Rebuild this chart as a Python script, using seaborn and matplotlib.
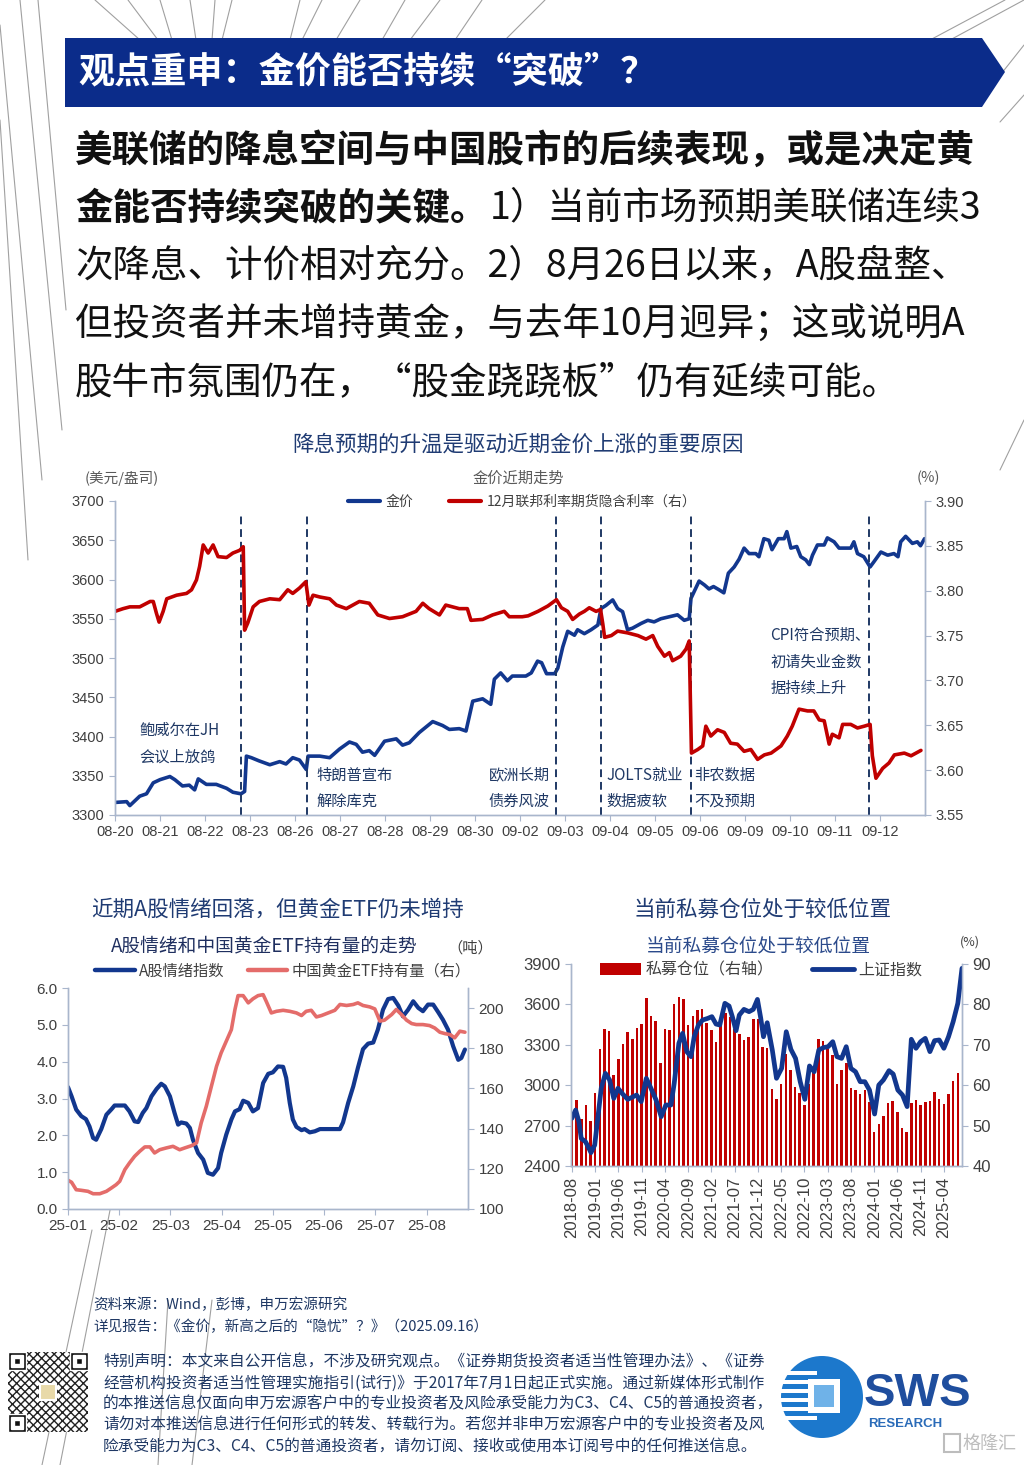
import numpy as np
import matplotlib
matplotlib.use('Agg')
import matplotlib.pyplot as plt
import seaborn as sns
from matplotlib.lines import Line2D
from matplotlib.patches import Polygon, Rectangle, Circle, Patch
from matplotlib.ticker import FormatStrFormatter

sns.set_theme(style="ticks")
plt.rcParams['font.family'] = ['Noto Sans CJK SC', 'DejaVu Sans']
plt.rcParams['axes.unicode_minus'] = False

# -------------------------
# Data: chart 1 (gold vs Dec fed funds implied rate), x = trading-day index
# -------------------------
day_labels = ['08-20', '08-21', '08-22', '08-23', '08-26', '08-27', '08-28', '08-29', '08-30',
              '09-02', '09-03', '09-04', '09-05', '09-06', '09-09', '09-10', '09-11', '09-12']

gold_t = [0.00, 0.26, 0.33, 0.55, 0.70, 0.85, 1.00, 1.22, 1.33, 1.50, 1.65, 1.77, 1.85, 2.03, 2.25,
          2.48, 2.62, 2.80, 2.88, 2.92, 3.03, 3.20, 3.44, 3.66, 3.80, 3.95, 4.10, 4.25, 4.29, 4.55,
          4.77, 4.99, 5.21, 5.36, 5.50, 5.65, 5.77, 5.99, 6.25, 6.39, 6.54, 6.76, 7.06, 7.28, 7.43,
          7.65, 7.80, 7.95, 8.17, 8.35, 8.43, 8.57, 8.72, 8.83, 9.13, 9.25, 9.39, 9.48, 9.59, 9.77,
          9.84, 9.95, 10.06, 10.21, 10.28, 10.43, 10.58, 10.73, 10.80, 10.91, 11.06, 11.17, 11.28,
          11.39, 11.50, 11.69, 11.84, 11.98, 12.13, 12.35, 12.50, 12.65, 12.76, 12.80, 12.98, 13.10,
          13.20, 13.30, 13.42, 13.53, 13.63, 13.76, 13.87, 13.98, 14.09, 14.24, 14.31, 14.42, 14.53,
          14.60, 14.74, 14.87, 14.93, 15.02, 15.15, 15.24, 15.35, 15.43, 15.50, 15.61, 15.76, 15.83,
          15.98, 16.09, 16.20, 16.35, 16.42, 16.50, 16.64, 16.78, 16.87, 17.02, 17.17, 17.31, 17.40,
          17.46, 17.57, 17.72, 17.83, 17.90, 17.99]
gold_v = [3316, 3317, 3312, 3324, 3327, 3341, 3345, 3349, 3345, 3337, 3338, 3332, 3346, 3339, 3339,
          3334, 3329, 3327, 3330, 3375, 3373, 3369, 3364, 3368, 3365, 3373, 3370, 3358, 3375, 3375,
          3373, 3384, 3393, 3390, 3380, 3382, 3376, 3394, 3397, 3389, 3392, 3405, 3419, 3414, 3409,
          3410, 3407, 3445, 3448, 3441, 3473, 3481, 3471, 3477, 3477, 3481, 3496, 3494, 3480, 3480,
          3487, 3514, 3534, 3529, 3536, 3531, 3536, 3542, 3563, 3567, 3574, 3563, 3559,
          3536, 3538, 3544, 3548, 3546, 3550, 3553, 3555, 3548, 3550, 3576, 3598, 3593,
          3588, 3591, 3587, 3583, 3608, 3616, 3626, 3640, 3633, 3633, 3629, 3652, 3650,
          3638, 3652, 3652, 3661, 3640, 3642, 3629, 3625, 3619, 3631, 3644, 3644, 3653,
          3648, 3640, 3640, 3640, 3648, 3633, 3629, 3616, 3623, 3635, 3631, 3633, 3629,
          3648, 3655, 3646, 3648, 3643, 3652]

rate_t = [0.00, 0.18, 0.33, 0.55, 0.78, 0.85, 0.92, 0.98, 1.07, 1.15, 1.37, 1.59, 1.70, 1.81, 1.88,
          1.96, 2.07, 2.18, 2.29, 2.48, 2.62, 2.77, 2.85, 2.88, 2.95, 3.07, 3.21, 3.44, 3.66, 3.84,
          3.95, 4.10, 4.24, 4.31, 4.40, 4.55, 4.77, 4.92, 5.14, 5.43, 5.65, 5.84, 6.10, 6.39, 6.69,
          6.84, 6.98, 7.21, 7.35, 7.65, 7.83, 7.91, 8.17, 8.39, 8.65, 8.76, 9.05, 9.18, 9.40, 9.62,
          9.81, 9.92, 10.06, 10.17, 10.32, 10.43, 10.54, 10.69, 10.79, 10.84, 10.88, 11.03, 11.17,
          11.39, 11.62, 11.80, 11.95, 12.06, 12.21, 12.32, 12.39, 12.57, 12.69, 12.76, 12.81, 12.95,
          13.06, 13.13, 13.24, 13.39, 13.54, 13.68, 13.83, 13.98, 14.13, 14.28, 14.43, 14.58, 14.80,
          14.94, 15.05, 15.20, 15.39, 15.53, 15.65, 15.76, 15.87, 15.94, 16.09, 16.17, 16.35, 16.50,
          16.65, 16.78, 16.83, 16.91, 17.06, 17.20, 17.32, 17.54, 17.69, 17.91]
rate_v = [3.777, 3.780, 3.782, 3.782, 3.788, 3.788, 3.775, 3.765, 3.777, 3.791, 3.795, 3.797, 3.801,
          3.812, 3.827, 3.851, 3.842, 3.851, 3.838, 3.837, 3.842, 3.845, 3.849, 3.756, 3.764, 3.782,
          3.788, 3.791, 3.790, 3.801, 3.797, 3.803, 3.810, 3.784, 3.795, 3.793, 3.791, 3.784, 3.780,
          3.788, 3.786, 3.773, 3.769, 3.771, 3.777, 3.786, 3.780, 3.773, 3.784, 3.780, 3.780, 3.767,
          3.768, 3.773, 3.777, 3.771, 3.771, 3.772, 3.777, 3.783, 3.790, 3.781, 3.777, 3.768, 3.774,
          3.777, 3.781, 3.777, 3.779, 3.763, 3.748, 3.750, 3.755, 3.753, 3.750, 3.746, 3.750, 3.738,
          3.727, 3.731, 3.722, 3.727, 3.735, 3.744, 3.619, 3.623, 3.627, 3.649, 3.638, 3.645, 3.642,
          3.630, 3.629, 3.621, 3.623, 3.612, 3.617, 3.619, 3.627, 3.638, 3.649, 3.668, 3.666, 3.666,
          3.656, 3.655, 3.629, 3.640, 3.636, 3.651, 3.651, 3.647, 3.649, 3.651, 3.616, 3.591, 3.602,
          3.608, 3.617, 3.619, 3.616, 3.622]

event_days = [2.81, 4.27, 9.80, 10.80, 12.79, 16.75]

# -------------------------
# Data: chart 2 (A-share sentiment vs China gold ETF holdings), x = months since 2025-01
# -------------------------
month_labels = ['25-01', '25-02', '25-03', '25-04', '25-05', '25-06', '25-07', '25-08']

senti_t = [0.00, 0.07, 0.16, 0.26, 0.35, 0.42, 0.49, 0.55, 0.65, 0.75, 0.85, 0.91, 1.11, 1.20, 1.30,
           1.37, 1.46, 1.53, 1.63, 1.73, 1.82, 1.89, 1.99, 2.08, 2.15, 2.21, 2.31, 2.38, 2.44, 2.54,
           2.64, 2.73, 2.83, 2.93, 2.99, 3.09, 3.19, 3.26, 3.35, 3.42, 3.52, 3.61, 3.71, 3.81, 3.91,
           4.00, 4.10, 4.20, 4.26, 4.33, 4.39, 4.46, 4.56, 4.62, 4.72, 4.82, 4.92, 5.31, 5.37, 5.47,
           5.57, 5.66, 5.76, 5.86, 5.96, 6.05, 6.15, 6.25, 6.35, 6.45, 6.54, 6.64, 6.74, 6.84, 6.93,
           7.03, 7.13, 7.23, 7.32, 7.42, 7.52, 7.62, 7.68, 7.75]
senti_v = [3.31, 3.06, 2.70, 2.52, 2.44, 2.24, 1.93, 1.88, 2.17, 2.56, 2.71, 2.81, 2.81, 2.65, 2.38,
           2.36, 2.61, 2.74, 3.06, 3.26, 3.40, 3.33, 3.06, 2.61, 2.29, 2.35, 2.32, 2.20, 1.88, 1.52,
           1.34, 0.98, 0.93, 1.11, 1.52, 2.02, 2.43, 2.65, 2.71, 2.94, 2.88, 2.65, 2.74, 3.42, 3.67,
           3.71, 3.87, 3.86, 3.56, 2.88, 2.43, 2.23, 2.14, 2.17, 2.08, 2.11, 2.17, 2.17, 2.35, 2.88,
           3.33, 3.83, 4.34, 4.49, 4.52, 4.87, 5.41, 5.70, 5.73, 5.52, 5.23, 5.41, 5.64, 5.46, 5.37,
           5.55, 5.55, 5.34, 5.14, 4.87, 4.42, 4.05, 4.10, 4.33]

etf_t = [0.00, 0.07, 0.16, 0.26, 0.39, 0.49, 0.62, 0.75, 0.85, 0.94, 1.01, 1.11, 1.20, 1.30, 1.40,
         1.50, 1.60, 1.69, 1.79, 1.92, 2.05, 2.18, 2.28, 2.41, 2.51, 2.60, 2.70, 2.80, 2.90, 2.99,
         3.09, 3.19, 3.26, 3.32, 3.42, 3.52, 3.61, 3.71, 3.81, 3.87, 3.97, 4.07, 4.20, 4.33, 4.46,
         4.56, 4.65, 4.75, 4.85, 4.95, 5.08, 5.21, 5.31, 5.44, 5.57, 5.66, 5.76, 5.89, 5.99, 6.09,
         6.18, 6.32, 6.41, 6.51, 6.61, 6.71, 6.80, 6.93, 7.06, 7.16, 7.26, 7.36, 7.46, 7.55, 7.65,
         7.75]
etf_v = [114.3, 113.3, 109.6, 109.3, 108.8, 107.6, 107.6, 108.8, 110.5, 112.1, 113.8, 119.6, 122.9,
         126.2, 128.7, 130.9, 130.9, 127.9, 129.5, 130.4, 131.2, 129.5, 130.4, 131.5, 132.9, 142.8,
         151.1, 161.1, 171.0, 177.7, 183.5, 189.3, 199.3, 206.2, 206.2, 202.6, 204.6, 206.2, 206.7,
         203.4, 197.6, 198.4, 198.9, 198.4, 197.6, 196.3, 198.4, 198.9, 195.6, 196.3, 197.6, 198.9,
         201.8, 201.3, 201.8, 202.6, 201.3, 200.6, 199.6, 193.5, 194.0, 196.8, 199.3, 196.8, 194.0,
         192.3, 191.8, 191.8, 191.3, 190.1, 188.0, 187.3, 186.8, 185.2, 188.5, 188.0]

# -------------------------
# Data: chart 3 (private fund position vs SSE index), x = months since 2018-08
# -------------------------
ym_labels = ['2018-08', '2019-01', '2019-06', '2019-11', '2020-04', '2020-09', '2021-02', '2021-07',
             '2021-12', '2022-05', '2022-10', '2023-03', '2023-08', '2024-01', '2024-06', '2024-11',
             '2025-04']

position = [52.5, 56.3, 51.6, 55.1, 51.2, 58.0, 68.9, 73.9, 73.3, 62.5, 66.4, 70.1, 73.2, 71.4, 74.1,
            75.1, 81.7, 77.1, 75.9, 65.6, 74.0, 73.7, 80.1, 81.9, 81.3, 74.9, 77.1, 78.6, 78.8, 75.3,
            73.7, 70.6, 75.3, 77.8, 77.0, 73.8, 72.7, 71.2, 72.0, 76.3, 76.3, 69.4, 69.1, 59.0, 56.7,
            60.3, 67.7, 63.8, 59.5, 58.0, 55.1, 60.3, 63.9, 71.4, 71.0, 68.9, 67.5, 60.2, 63.8, 65.4,
            59.2, 58.8, 57.8, 58.8, 55.9, 48.3, 50.3, 52.5, 55.5, 56.1, 53.4, 49.5, 48.5, 55.5, 56.3,
            55.1, 55.9, 56.2, 58.4, 56.6, 55.3, 57.8, 61.1, 62.9]
position_m = list(range(len(position)))

sse_t = [0.0, 0.8, 1.5, 2.0, 2.9, 3.4, 4.1, 4.9, 5.6, 6.3, 7.2, 8.1, 9.0, 9.9, 10.9, 12.0, 12.9, 13.9,
         14.9, 16.0, 17.0, 18.1, 19.2, 20.2, 21.3, 22.0, 23.0, 23.8, 24.7, 25.6, 26.3, 27.2, 28.1,
         29.2, 30.1, 31.0, 31.8, 32.9, 33.8, 34.5, 35.3, 36.0, 37.0, 38.1, 39.0, 39.9, 40.6, 41.2,
         42.0, 43.1, 44.0, 45.1, 46.1, 47.1, 48.1, 49.1, 50.1, 51.1, 52.1, 53.1, 54.1, 55.1, 56.1,
         57.0, 58.0, 59.0, 60.0, 61.0, 62.0, 63.0, 64.0, 65.1, 66.0, 67.0, 68.2, 69.1, 70.1, 71.1,
         72.1, 73.0, 74.0, 75.0, 76.0, 77.0, 78.0, 79.0, 80.0, 81.0, 82.0, 83.0, 83.9]
sse_v = [2754, 2816, 2729, 2605, 2581, 2549, 2499, 2556, 2766, 2977, 3088, 3039, 2902, 2977, 2935, 2895,
         2910, 2927, 2878, 3051, 2977, 2890, 2766, 2853, 2853, 3014, 3311, 3385, 3249, 3212, 3360, 3447,
         3484, 3496, 3509, 3454, 3447, 3608, 3588, 3509, 3405, 3521, 3563, 3546, 3563, 3637, 3500, 3360,
         3464, 3261, 3051, 3125, 3397, 3266, 3199, 3026, 2895, 3143, 3100, 3261, 3279, 3286, 3323,
         3212, 3199, 3286, 3125, 3100, 3026, 3026, 2964, 2786, 3001, 3039, 3108, 3083, 2964, 2927,
         2841, 3341, 3274, 3323, 3348, 3249, 3331, 3336, 3274, 3360, 3472, 3608, 3868]

# colours
NAVY = '#0B2C8A'
BLUE = '#12378E'
RED = '#C00000'
SALMON = '#E46C6A'
SPINE = '#A9B6CC'
TICK = '#3F3F3F'
TITLE = '#1F3B73'
NOTE = '#1F3864'

W, H = 1024, 1465
fig = plt.figure(figsize=(W / 100, H / 100), dpi=100)
fig.patch.set_facecolor('white')

# background layer in pixel coordinates
bg = fig.add_axes([0, 0, 1, 1])
bg.set_xlim(0, W)
bg.set_ylim(H, 0)
bg.axis('off')
bg.set_zorder(-1)


def px_axes(l, t, r, b):
    return fig.add_axes([l / W, 1 - b / H, (r - l) / W, (b - t) / H])


def fig_pt(x, y):
    return (x / W, 1 - y / H)


def style_pair(ax, axr, size):
    for a in (ax, axr):
        for s in a.spines.values():
            s.set_color(SPINE)
            s.set_linewidth(1.0)
        a.spines['top'].set_visible(False)
    ax.tick_params(axis='both', direction='out', length=4, width=0.8, color=SPINE,
                   labelcolor=TICK, labelsize=size, bottom=True, left=True, right=False)
    axr.tick_params(axis='y', direction='out', length=4, width=0.8, color=SPINE,
                    labelcolor=TICK, labelsize=size, right=True, left=False)
    for lab in ax.get_xticklabels() + ax.get_yticklabels() + axr.get_yticklabels():
        lab.set_fontfamily(['Liberation Sans', 'DejaVu Sans'])


# -------------------------
# Decorative thin lines
# -------------------------
deco = [((20, 0), (62, 430)), ((0, 25), (42, 480)), ((38, 0), (66, 310)), ((0, 120), (28, 560)),
        ((95, 0), (140, 40)), ((128, 0), (158, 40)), ((160, 0), (172, 40)), ((190, 0), (196, 40)),
        ((215, 0), (212, 40)), ((232, 0), (222, 40)), ((300, 0), (290, 40)), ((322, 0), (302, 40)),
        ((360, 0), (336, 40)), ((405, 0), (382, 40)), ((440, 0), (410, 40)), ((482, 0), (455, 40)),
        ((545, 0), (505, 40)), ((1024, 0), (950, 40)), ((1005, 0), (930, 40)),
        ((1024, 45), (990, 88)), ((1024, 95), (1000, 122)), ((1024, 420), (1000, 470)),
        ((112, 1200), (60, 1465)), ((92, 1230), (42, 1465)), ((212, 1300), (192, 1465)),
        ((168, 1300), (158, 1465))]
for (x0, y0), (x1, y1) in deco:
    bg.plot([x0, x1], [y0, y1], color='#A0A0A0', lw=0.8, zorder=1)

# -------------------------
# Header banner and lead text
# -------------------------
bg.add_patch(Polygon([(65, 38), (982, 38), (1005, 72), (982, 107), (65, 107)],
                     closed=True, facecolor=NAVY, edgecolor='none', zorder=3))
bg.text(78, 72, '观点重申：金价能否持续“突破”？', color='white', fontsize=26, weight='bold',
        va='center', ha='left', zorder=4)

body_fs = 27
bg.text(75, 150, '美联储的降息空间与中国股市的后续表现，或是决定黄', fontsize=body_fs, weight='bold',
        color='#111111', va='center')
t_b = bg.text(75, 208, '金能否持续突破的关键。', fontsize=body_fs, weight='bold', color='#111111', va='center')
fig.canvas.draw()
bb = t_b.get_window_extent(fig.canvas.get_renderer())
x_end = bg.transData.inverted().transform((bb.x1, bb.y0))[0]
bg.text(x_end + 2, 208, '1）当前市场预期美联储连续3', fontsize=body_fs, color='#111111', va='center')
bg.text(75, 267, '次降息、计价相对充分。2）8月26日以来，A股盘整、', fontsize=body_fs, color='#111111', va='center')
bg.text(75, 325, '但投资者并未增持黄金，与去年10月迥异；这或说明A', fontsize=body_fs, color='#111111', va='center')
bg.text(75, 383, '股牛市氛围仍在，“股金跷跷板”仍有延续可能。', fontsize=body_fs, color='#111111', va='center')

# -------------------------
# Chart 1: gold price vs implied rate
# -------------------------
bg.text(518, 445, '降息预期的升温是驱动近期金价上涨的重要原因', fontsize=15.5, color=TITLE, ha='center', va='center')
bg.text(85, 478, '(美元/盎司)', fontsize=10.5, color='#595959', ha='left', va='center')
bg.text(518, 478, '金价近期走势', fontsize=11, color='#595959', ha='center', va='center')
bg.text(940, 478, '(%)', fontsize=10.5, color='#595959', ha='right', va='center')

ax1 = px_axes(115, 501, 925, 815)
sns.lineplot(x=gold_t, y=gold_v, ax=ax1, color=BLUE, linewidth=2.6)
ax1r = ax1.twinx()
sns.lineplot(x=rate_t, y=rate_v, ax=ax1r, color=RED, linewidth=2.6)
for d in event_days:
    ax1.axvline(d, ymin=0, ymax=0.962, color=NOTE, ls=(0, (4, 2.5)), lw=1.4)
ax1.set_xlim(0, 18)
ax1.set_ylim(3300, 3700)
ax1r.set_ylim(3.55, 3.90)
ax1.set_xticks(range(len(day_labels)))
ax1.set_xticklabels(day_labels)
ax1.set_yticks(range(3300, 3701, 50))
ax1r.set_yticks(np.arange(3.55, 3.901, 0.05))
ax1r.yaxis.set_major_formatter(FormatStrFormatter('%.2f'))
style_pair(ax1, ax1r, 10.5)

notes = [(0.55, 3391, '鲍威尔在JH\n会议上放鸽'), (4.47, 3334, '特朗普宣布\n解除库克'),
         (8.30, 3334, '欧洲长期\n债券风波'), (10.93, 3334, 'JOLTS就业\n数据疲软'),
         (12.88, 3334, '非农数据\n不及预期'), (14.56, 3495, 'CPI符合预期、\n初请失业金数\n据持续上升')]
for x, y, s in notes:
    ax1.text(x, y, s, fontsize=11, color=NOTE, ha='left', va='center', linespacing=1.72)

h1 = [Line2D([0], [0], color=BLUE, lw=3), Line2D([0], [0], color=RED, lw=3)]
ax1r.legend(h1, ['金价', '12月联邦利率期货隐含利率（右）'], loc='center', ncol=2, frameon=False,
            bbox_to_anchor=fig_pt(522, 502), bbox_transform=fig.transFigure, fontsize=10,
            handlelength=2.3, handletextpad=0.4, columnspacing=2.6, labelcolor='#404040')

# -------------------------
# Chart 2: sentiment vs gold ETF
# -------------------------
bg.text(278, 910, '近期A股情绪回落，但黄金ETF仍未增持', fontsize=15.5, color=TITLE, ha='center', va='center')
bg.text(264, 946, 'A股情绪和中国黄金ETF持有量的走势', fontsize=13.5, color='#1F2F5F', ha='center', va='center')
bg.text(470, 948, '（吨）', fontsize=11, color='#404040', ha='center', va='center')

ax2 = px_axes(68, 988, 468, 1209)
sns.lineplot(x=senti_t, y=senti_v, ax=ax2, color=BLUE, linewidth=3.0)
ax2r = ax2.twinx()
sns.lineplot(x=etf_t, y=etf_v, ax=ax2r, color=SALMON, linewidth=2.6)
ax2.set_xlim(0, 7.81)
ax2.set_ylim(0, 6)
ax2r.set_ylim(100, 210)
ax2.set_xticks(range(len(month_labels)))
ax2.set_xticklabels(month_labels)
ax2.set_yticks(np.arange(0, 6.01, 1.0))
ax2.yaxis.set_major_formatter(FormatStrFormatter('%.1f'))
ax2r.set_yticks(range(100, 201, 20))
style_pair(ax2, ax2r, 11)

h2 = [Line2D([0], [0], color=BLUE, lw=3.2), Line2D([0], [0], color=SALMON, lw=3.2)]
ax2r.legend(h2, ['A股情绪指数', '中国黄金ETF持有量（右）'], loc='center', ncol=2, frameon=False,
            bbox_to_anchor=fig_pt(283, 971), bbox_transform=fig.transFigure, fontsize=11,
            handlelength=2.6, handletextpad=0.3, columnspacing=1.5, labelcolor='#404040')

# -------------------------
# Chart 3: private fund position vs SSE index
# -------------------------
bg.text(763, 910, '当前私募仓位处于较低位置', fontsize=15.5, color=TITLE, ha='center', va='center')
bg.text(758, 946, '当前私募仓位处于较低位置', fontsize=13.5, color='#2B4A8B', ha='center', va='center')
bg.text(970, 942, '(%)', fontsize=9, color='#404040', ha='center', va='center')

ax3 = px_axes(571, 964, 962, 1166)
ax3r = ax3.twinx()
ax3r.bar(position_m, position, width=0.55, color=RED, linewidth=0)
sns.lineplot(x=sse_t, y=sse_v, ax=ax3, color=BLUE, linewidth=3.4)
ax3.set_zorder(ax3r.get_zorder() + 1)
ax3.patch.set_visible(False)
ax3.set_ylim(2400, 3900)
ax3r.set_ylim(40, 90)
ax3.set_yticks(range(2400, 3901, 300))
ax3r.set_yticks(range(40, 91, 10))
ax3.set_xticks(range(0, 84, 5))
ax3.set_xticklabels(ym_labels)
ax3.set_xlim(-0.2, 83.9)
style_pair(ax3, ax3r, 12)
ax3.tick_params(axis='x', labelrotation=90)
ax3r.tick_params(axis='x', bottom=False, labelbottom=False)

h3 = [Patch(facecolor=RED, edgecolor='none'), Line2D([0], [0], color=BLUE, lw=3.5)]
ax3.legend(h3, ['私募仓位（右轴）', '上证指数'], loc='center', ncol=2, frameon=False,
           bbox_to_anchor=fig_pt(761, 970), bbox_transform=fig.transFigure, fontsize=11.5,
           handlelength=2.6, handletextpad=0.3, columnspacing=2.4, labelcolor='#404040')

# -------------------------
# Footer
# -------------------------
bg.text(93, 1305, '资料来源：Wind，彭博，申万宏源研究', fontsize=10.5, color=NOTE, va='center')
bg.text(93, 1327, '详见报告：《金价，新高之后的“隐忧”？》（2025.09.16）', fontsize=10.5, color=NOTE, va='center')

disclaimer = ['特别声明：本文来自公开信息，不涉及研究观点。《证券期货投资者适当性管理办法》、《证券',
              '经营机构投资者适当性管理实施指引(试行)》于2017年7月1日起正式实施。通过新媒体形式制作',
              '的本推送信息仅面向申万宏源客户中的专业投资者及风险承受能力为C3、C4、C5的普通投资者，',
              '请勿对本推送信息进行任何形式的转发、转载行为。若您并非申万宏源客户中的专业投资者及风',
              '险承受能力为C3、C4、C5的普通投资者，请勿订阅、接收或使用本订阅号中的任何推送信息。']
for i, line in enumerate(disclaimer):
    bg.text(103, 1362 + 21 * i, line, fontsize=11.3, color=NOTE, va='center')

# QR code placeholder
bg.add_patch(Rectangle((8, 1352), 80, 80, facecolor='white', edgecolor='#222222', hatch='xxxx', lw=0, zorder=2))
for qx, qy in [(8, 1352), (70, 1352), (8, 1414)]:
    bg.add_patch(Rectangle((qx, qy), 18, 18, facecolor='#111111', zorder=3))
    bg.add_patch(Rectangle((qx + 3, qy + 3), 12, 12, facecolor='white', zorder=3))
    bg.add_patch(Rectangle((qx + 6, qy + 6), 6, 6, facecolor='#111111', zorder=3))
bg.add_patch(Rectangle((40, 1384), 16, 16, facecolor='#E8D9A8', edgecolor='white', lw=1.5, zorder=3))

# SWS logo
bg.add_patch(Circle((822, 1397), 41, facecolor='#1C78CC', edgecolor='none', zorder=2))
for yy in [1371, 1380, 1389, 1398, 1407, 1416]:
    bg.add_patch(Rectangle((779, yy), 38, 3.5, facecolor='white', edgecolor='none', zorder=3))
bg.add_patch(Rectangle((808, 1379), 32, 34, facecolor='white', edgecolor='none', zorder=3))
bg.add_patch(Rectangle((814, 1385), 20, 22, facecolor='#6FB2E8', edgecolor='none', zorder=3))
bg.text(864, 1406, 'SWS', fontsize=34, weight='bold', color='#1F4E9E', va='baseline',
        fontfamily=['Liberation Sans', 'DejaVu Sans'])
bg.text(868, 1424, 'RESEARCH', fontsize=9.5, weight='bold', color='#2A6BB8', va='center',
        fontfamily=['Liberation Sans', 'DejaVu Sans'])

# watermark
bg.add_patch(Rectangle((944, 1434), 16, 18, facecolor='none', edgecolor='#BDBDBD', lw=1.5, zorder=2))
bg.text(963, 1444, '格隆汇', fontsize=13, color='#BDBDBD', va='center')

fig.savefig('out.png', dpi=100)
